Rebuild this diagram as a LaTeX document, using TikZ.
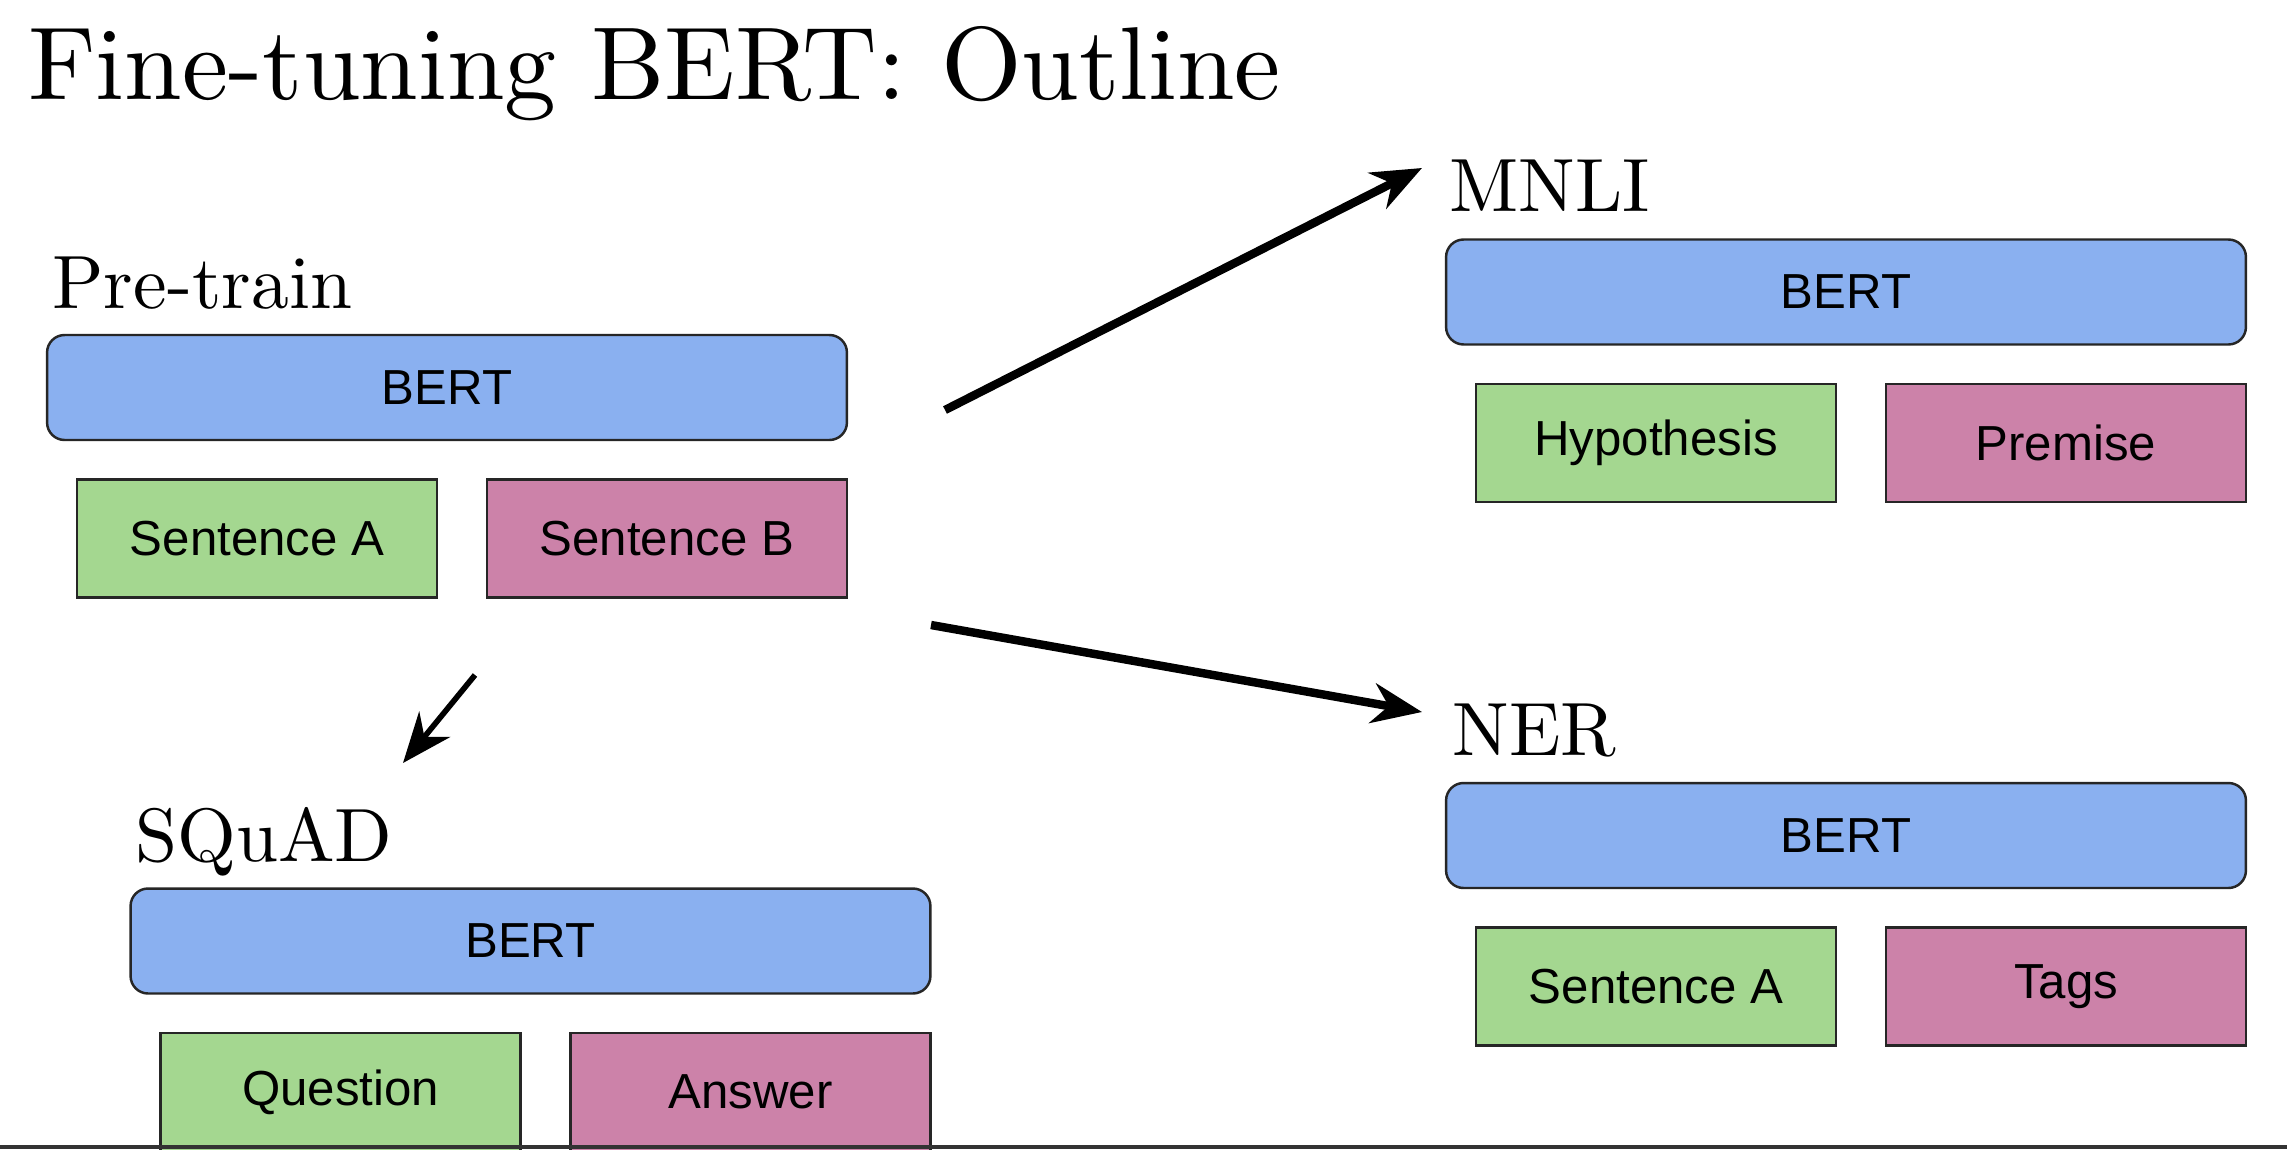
\documentclass[tikz,border=0pt]{standalone}
\usepackage{fontspec}
\newfontfamily\boxfont{Liberation Sans}
\usetikzlibrary{arrows.meta, positioning}

\definecolor{bertblue}{HTML}{8AB0F0}
\definecolor{sentgreen}{HTML}{A4D790}
\definecolor{sentpink}{HTML}{CC82A9}

\begin{document}
\begin{tikzpicture}[
      x=0.02cm, y=-0.02cm,
      bert/.style={draw=black!85, line width=1.4pt, rounded corners=0.35cm, fill=bertblue, minimum width=16cm, minimum height=2.1cm, font=\boxfont\fontsize{28}{32}\selectfont},
      seg/.style={draw=black!85, line width=1.4pt, minimum width=7.2cm, minimum height=2.36cm, font=\boxfont\fontsize{28}{32}\selectfont},
      segA/.style={seg, fill=sentgreen},
      segB/.style={seg, fill=sentpink},
      task/.style={anchor=base west, inner sep=0pt, scale=4.3, font=\fontsize{10}{12}\selectfont},
      arr/.style={-{Stealth[length=1cm, width=0.8cm]}, line width=4.8pt},
    ]
    \path[use as bounding box, fill=white] (0,0) rectangle (2287,1149);
    \clip (0,0) rectangle (2287,1149);

    \node[anchor=base west, inner sep=0pt, scale=5.9, font=\fontsize{10}{12}\selectfont] (title) at (26,99) {Fine-tuning BERT: Outline};

    % pre-training
    \node[task] (pre) at (51,308) {Pre-train};
    \node[bert] (pbert) at (447,387.5) {BERT};
    \node[segA, below right=0.74cm and 0.6cm of pbert.south west] (psa) {Sentence A};
    \node[segB, below left=0.74cm and 0cm of pbert.south east] (psb) {Sentence B};

    % fine-tuning tasks
    \node[task] (mnli) at (1448,211) {MNLI};
    \node[bert] (mbert) at (1846,292) {BERT};
    \node[segA, below right=0.74cm and 0.6cm of mbert.south west] (mhyp) {Hypothesis};
    \node[segB, below left=0.74cm and 0cm of mbert.south east] (mprem) {Premise};

    \node[task] (ner) at (1451,755) {NER};
    \node[bert] (nbert) at (1846,835.5) {BERT};
    \node[segA, below right=0.74cm and 0.6cm of nbert.south west] (nsa) {Sentence A};
    \node[segB, below left=0.74cm and 0cm of nbert.south east] (ntags) {Tags};

    \node[task] (squad) at (134,861) {SQuAD};
    \node[bert] (sbert) at (530.5,941) {BERT};
    \node[segA, below right=0.74cm and 0.6cm of sbert.south west] (sq) {Question};
    \node[segB, below left=0.74cm and 0cm of sbert.south east] (sans) {Answer};

    \coordinate (toMnliA) at (945,410);
    \coordinate (toMnliB) at (1422,168);
    \coordinate (toNerA) at (931,625);
    \coordinate (toNerB) at (1422,712);
    \coordinate (toSquadA) at (475,675);
    \coordinate (toSquadB) at (403,763);

    \draw[arr] (toMnliA) -- (toMnliB);
    \draw[arr] (toNerA) -- (toNerB);
    \draw[arr, line width=3.2pt] (toSquadA) -- (toSquadB);

    \fill[black!80] (0,1145) rectangle (2287,1149);
  \end{tikzpicture}
\end{document}
